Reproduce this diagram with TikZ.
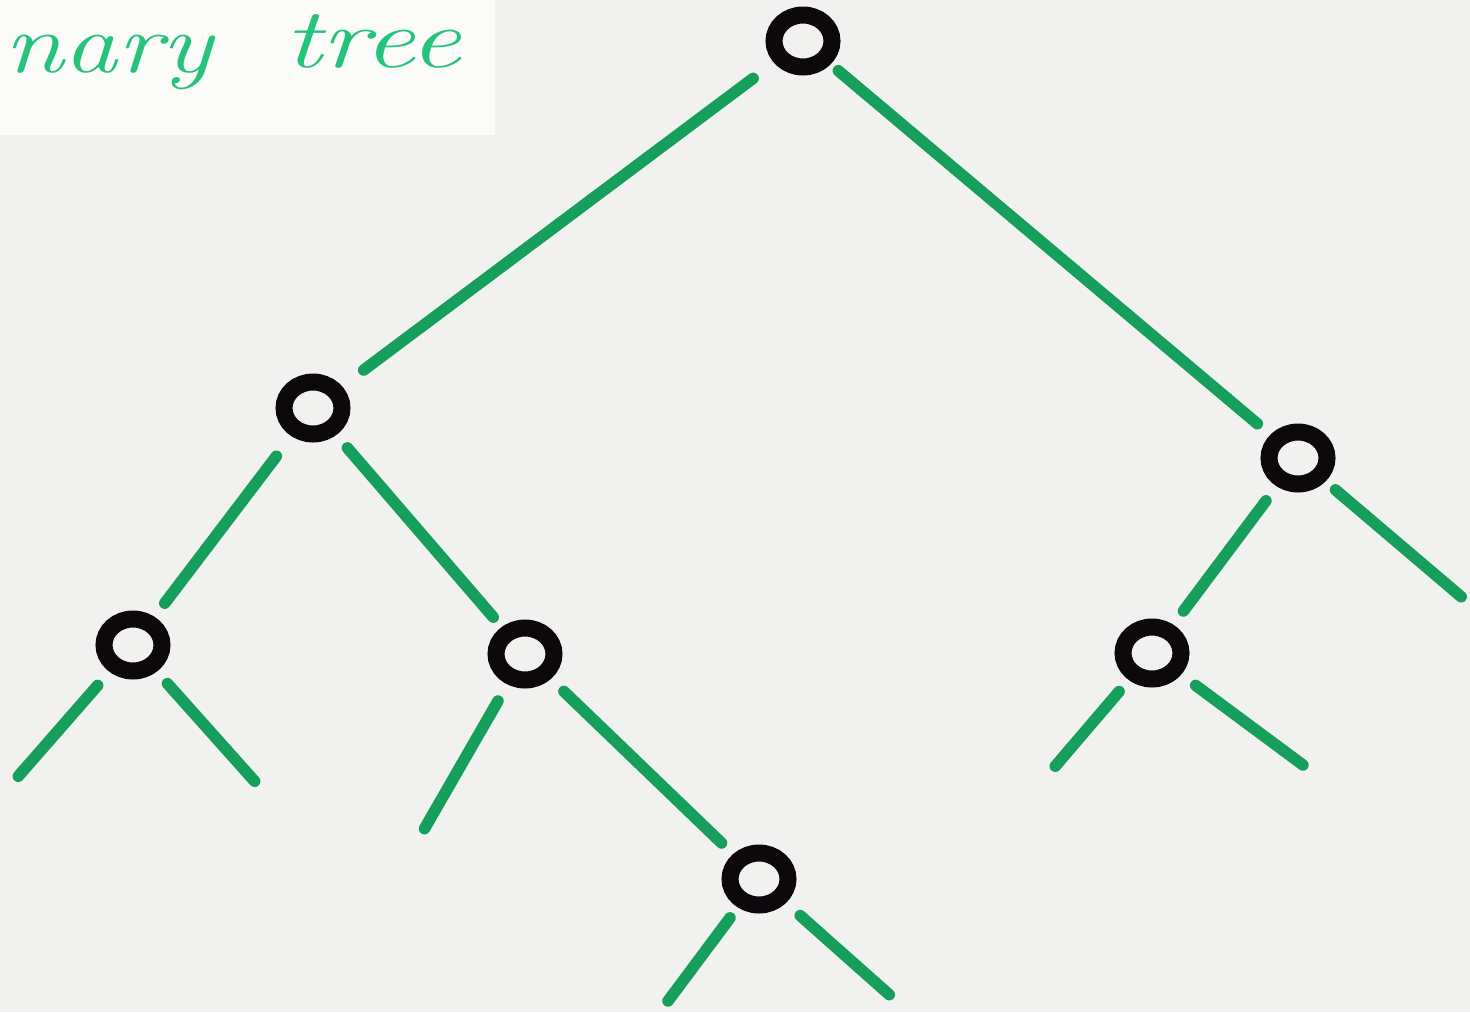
\documentclass[tikz,border=0pt]{standalone}
\usetikzlibrary{shapes.geometric}
\definecolor{paper}{RGB}{241,241,239}
\definecolor{paperw}{RGB}{251,251,250}
\definecolor{ink}{RGB}{22,158,92}
\definecolor{inktext}{RGB}{38,196,122}
\definecolor{ring}{RGB}{12,8,12}
\tikzset{
  ringnode/.style={ellipse, draw=ring, line width=0.34cm, minimum width=1.16cm, minimum height=1.04cm, inner sep=0pt},
  edge/.style={draw=ink, line width=0.23cm, line cap=round},
  hand/.style={text=inktext, font=\fontsize{46}{46}\selectfont\itshape, inner sep=0pt, anchor=base west}
}
\begin{document}
\begin{tikzpicture}[x=0.02cm, y=-0.02cm]
\useasboundingbox (0,0) rectangle (1470,1012);
\fill[paper] (0,0) rectangle (1470,1012);
\fill[paperw] (0,0) rectangle (495,135);
\node[hand] (t1) at (4,72) {\scalebox{1.33}[1.05]{nary}};
\node[hand] (t2) at (284,67) {\scalebox{1.42}[1.05]{tree}};
% nodes
\node[ringnode] (root) at (803,41) {};
\node[ringnode] (L) at (313,408) {};
\node[ringnode] (R) at (1298,458) {};
\node[ringnode] (LL) at (133,645) {};
\node[ringnode] (LR) at (525,654) {};
\node[ringnode] (RL) at (1152,653) {};
\node[ringnode] (LRR) at (759,879) {};
% free ends
\coordinate (Rd) at (1465,600);
\coordinate (LLa) at (15,780);
\coordinate (LLb) at (258,785);
\coordinate (LRa) at (422,833);
\coordinate (RLa) at (1052,770);
\coordinate (RLb) at (1307,768);
\coordinate (LRRa) at (665,1005);
\coordinate (LRRb) at (893,998);
% edges
\draw[edge, shorten <=0.52cm, shorten >=0.54cm] (root) -- (L);
\draw[edge, shorten <=0.2cm, shorten >=0.34cm] (root) -- (R);
\draw[edge, shorten <=0.5cm, shorten >=0.34cm] (L) -- (LL);
\draw[edge, shorten <=0.34cm, shorten >=0.26cm] (L) -- (LR);
\draw[edge, shorten <=0.36cm, shorten >=0.34cm] (R) -- (RL);
\draw[edge, shorten <=0.36cm, shorten >=0.32cm] (LR) -- (LRR);
\draw[edge, shorten <=0.26cm, shorten >=0.1cm] (R) -- (Rd);
\draw[edge, shorten <=0.36cm, shorten >=0.1cm] (LL) -- (LLa);
\draw[edge, shorten <=0.32cm, shorten >=0.1cm] (LL) -- (LLb);
\draw[edge, shorten <=0.38cm, shorten >=0.1cm] (LR) -- (LRa);
\draw[edge, shorten <=0.3cm, shorten >=0.1cm] (RL) -- (RLa);
\draw[edge, shorten <=0.36cm, shorten >=0.1cm] (RL) -- (RLb);
\draw[edge, shorten <=0.26cm, shorten >=0.1cm] (LRR) -- (LRRa);
\draw[edge, shorten <=0.38cm, shorten >=0.1cm] (LRR) -- (LRRb);
\end{tikzpicture}
\end{document}
